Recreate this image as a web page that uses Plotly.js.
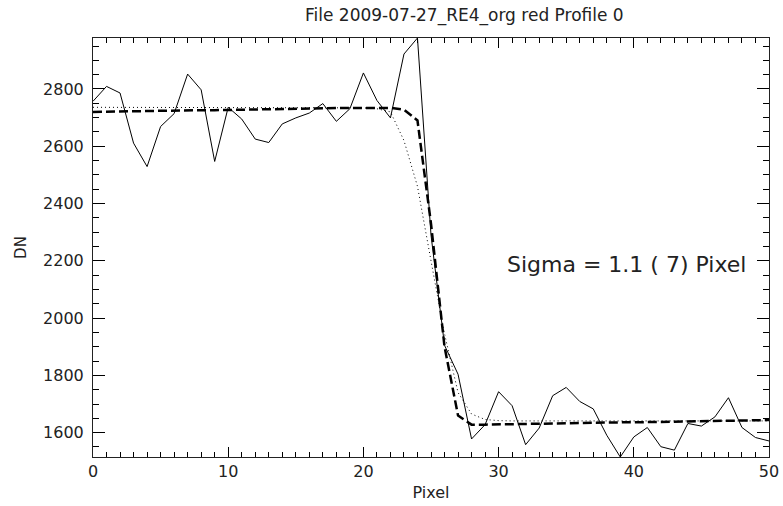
<!DOCTYPE html>
<html>
<head>
<meta charset="utf-8">
<script src="https://cdn.plot.ly/plotly-3.0.1.min.js"></script>
<style>html,body{margin:0;padding:0;background:#fff;}</style>
</head>
<body>
<div id="chart" style="width:783px;height:506px;"></div>
<script>
const pixel = [0,1,2,3,4,5,6,7,8,9,10,11,12,13,14,15,16,17,18,19,20,21,22,23,24,25,
  26,27,28,29,30,31,32,33,34,35,36,37,38,39,40,41,42,43,44,45,46,47,48,49,50];

// Measured profile (solid line)
const profileDN = [
  2757, 2809, 2786, 2611, 2529, 2669, 2714, 2852, 2797, 2547,
  2736, 2695, 2625, 2613, 2678, 2699, 2716, 2749, 2687, 2731,
  2856, 2760, 2699, 2922, 2978, 2290, 1905, 1804, 1578, 1628,
  1743, 1694, 1558, 1616, 1729, 1758, 1709, 1683, 1591, 1515,
  1585, 1618, 1551, 1539, 1632, 1623, 1655, 1722, 1618, 1583,
  1571
];

// Fitted edge (thick dashed line)
const fitDN = [
  2720, 2721, 2721, 2722, 2723, 2724, 2724, 2725, 2726, 2726,
  2727, 2728, 2729, 2729, 2730, 2731, 2731, 2732, 2733, 2734,
  2734, 2735, 2734, 2728, 2690, 2330, 1900, 1660, 1628, 1628,
  1629, 1630, 1631, 1631, 1632, 1633, 1634, 1634, 1635, 1636,
  1636, 1637, 1638, 1639, 1639, 1640, 1641, 1641, 1642, 1643,
  1644
];

// Smooth model (dotted line)
const modelDN = [
  2736, 2736, 2736, 2736, 2736, 2736, 2736, 2736, 2736, 2736,
  2736, 2736, 2736, 2736, 2736, 2736, 2736, 2736, 2736, 2735,
  2734, 2731, 2720, 2620, 2460, 2200, 1945, 1740, 1665, 1646,
  1642, 1641, 1641, 1641, 1641, 1641, 1641, 1641, 1641, 1641,
  1641, 1641, 1641, 1641, 1641, 1641, 1641, 1641, 1641, 1641,
  1641
];

const titleText = "File 2009-07-27_RE4_org red Profile 0";
const sigmaText = "Sigma = 1.1 ( 7) Pixel";
const xRange = [0, 50];
const yRange = [1515, 2978];

function mk(id, ax, ay, extra) {
  const lay = Object.assign({width: 783, height: 506, margin: {l: 93, r: 14, t: 38, b: 49}, xaxis: ax, yaxis: ay, showlegend: false}, extra || {});
  Plotly.newPlot(id, [
    {x: pixel, y: modelDN, mode: 'lines', line: {color: '#000', width: 1, dash: '1px,3px'}},
    {x: pixel, y: fitDN, mode: 'lines', line: {color: '#000', width: 2.5, dash: '9px,4px'}},
    {x: pixel, y: profileDN, mode: 'lines', line: {color: '#000', width: 1}}
  ], lay, {displayModeBar: false});
}

mk('chart',
  {range: xRange, dtick: 10, tick0: 0, ticks: 'inside', ticklen: 10, tickwidth: 1, tickcolor: '#000',
   showline: true, linecolor: '#222', linewidth: 1, mirror: 'allticks', showgrid: false, zeroline: false,
   tickfont: {family: 'DejaVu Sans', size: 16, color: '#222'},
   title: {text: 'Pixel', font: {family: 'DejaVu Sans', size: 16, color: '#222'}, standoff: 6},
   minor: {dtick: 1, ticks: 'inside', ticklen: 5, tickwidth: 1, tickcolor: '#000'}},
  {range: yRange, dtick: 200, tick0: 1600, ticks: 'inside', ticklen: 12, tickwidth: 1, tickcolor: '#000',
   showline: true, linecolor: '#222', linewidth: 1, mirror: 'allticks', showgrid: false, zeroline: false,
   tickfont: {family: 'DejaVu Sans', size: 16, color: '#222'}, ticklabelstandoff: 5,
   title: {text: 'DN', font: {family: 'DejaVu Sans', size: 15, color: '#222'}, standoff: 12},
   minor: {dtick: 50, ticks: 'inside', ticklen: 6, tickwidth: 1, tickcolor: '#000'}},
  {annotations: [
    {x: 0.55, y: 1, xref: 'paper', yref: 'paper', xanchor: 'center', yanchor: 'bottom', yshift: 10,
     text: titleText, showarrow: false, font: {family: 'DejaVu Sans', size: 17, color: '#222'}},
    {x: 30.5, y: 2187, xref: 'x', yref: 'y', xanchor: 'left', yanchor: 'middle',
     text: sigmaText, showarrow: false, font: {family: 'DejaVu Sans', size: 22, color: '#222'}}
  ]}
);
</script>
</body>
</html>
